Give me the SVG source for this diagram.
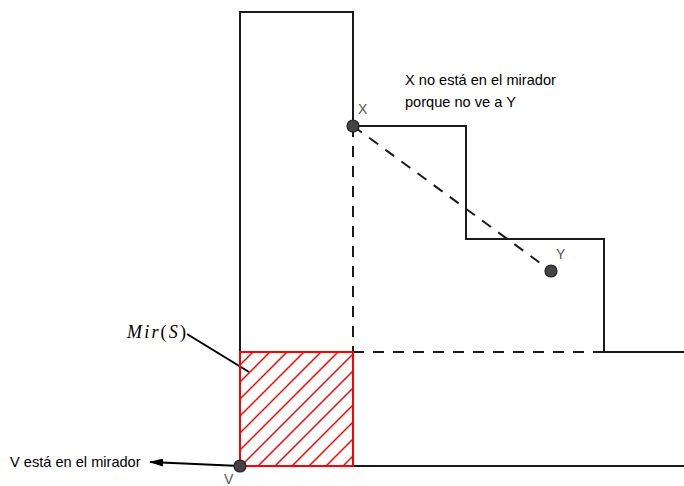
<svg xmlns="http://www.w3.org/2000/svg" width="684" height="486" viewBox="0 0 684 486">
<style>
.wall{fill:none;stroke:#1a1a1a;stroke-width:2}
.dash{fill:none;stroke:#1a1a1a;stroke-width:2;stroke-dasharray:11 9}
.hatch line{stroke:#ff0000;stroke-width:1.5}
.pt{fill:#444;stroke:#222;stroke-width:1.2}
.lbl{font-family:"Liberation Sans",Arial,sans-serif;font-size:14px;fill:#555}
.txt{font-family:"Liberation Sans",Arial,sans-serif;font-size:14.6px;fill:#000}
.math{font-family:"Liberation Serif","Times New Roman",serif;font-size:18px;fill:#000}
</style>
<defs>
<clipPath id="sq"><rect x="240" y="352" width="113" height="114"/></clipPath>
<marker id="ah" markerWidth="14" markerHeight="8" refX="13" refY="4" orient="auto" markerUnits="userSpaceOnUse"><path d="M0,0 L14,4 L0,8 Z" fill="#000"/></marker>
</defs>
<rect width="684" height="486" fill="#fff"/>
<g id="mirador">
<g class="hatch" clip-path="url(#sq)">
<line x1="139" y1="466" x2="253" y2="352"/>
<line x1="156" y1="466" x2="270" y2="352"/>
<line x1="173" y1="466" x2="287" y2="352"/>
<line x1="190" y1="466" x2="304" y2="352"/>
<line x1="207" y1="466" x2="321" y2="352"/>
<line x1="224" y1="466" x2="338" y2="352"/>
<line x1="241" y1="466" x2="355" y2="352"/>
<line x1="258" y1="466" x2="372" y2="352"/>
<line x1="275" y1="466" x2="389" y2="352"/>
<line x1="292" y1="466" x2="406" y2="352"/>
<line x1="309" y1="466" x2="423" y2="352"/>
<line x1="326" y1="466" x2="440" y2="352"/>
<line x1="343" y1="466" x2="457" y2="352"/>
</g>
</g>
<g id="terrain">
<polyline class="wall" points="240,466 240,12 353,12 353,126 466,126 466,239 604,239 604,352 684,352"/>
<line class="wall" x1="240" y1="466" x2="684" y2="466"/>
</g>
<g id="connectors">
<line class="dash" x1="353" y1="126" x2="353" y2="352"/>
<line class="dash" x1="353" y1="352" x2="604" y2="352"/>
<line class="dash" x1="353" y1="126" x2="551" y2="271"/>
<line x1="187" y1="334" x2="249" y2="372" stroke="#000" stroke-width="2"/>
<line x1="240" y1="466" x2="150" y2="462" stroke="#000" stroke-width="2" marker-end="url(#ah)"/>
</g>
<g id="square">
<rect x="240" y="352" width="113" height="114" fill="none" stroke="#ff0000" stroke-width="2"/>
</g>
<g id="X">
<circle class="pt" cx="353" cy="126" r="6"/>
<text class="lbl" x="358" y="114">X</text>
</g>
<g id="Y">
<circle class="pt" cx="551" cy="271" r="6"/>
<text class="lbl" x="556" y="259">Y</text>
</g>
<g id="V">
<circle class="pt" cx="240" cy="466" r="6"/>
<text class="lbl" x="224" y="484">V</text>
</g>
<g id="labels">
<text class="txt" x="405" y="85">X no está en el mirador</text>
<text class="txt" x="405" y="107">porque no ve a Y</text>
<text class="txt" x="10" y="467">V está en el mirador</text>
<text class="math" x="127" y="338" textLength="59" lengthAdjust="spacing"><tspan font-style="italic">Mir</tspan>(<tspan font-style="italic">S</tspan>)</text>
</g>
</svg>
